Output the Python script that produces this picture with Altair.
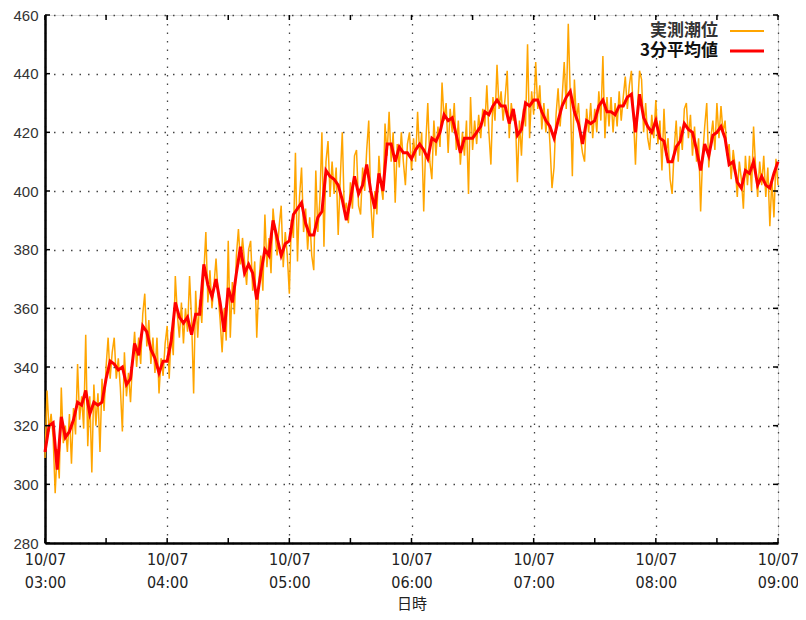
import altair as alt
import pandas as pd

# ---- data (cm) ----
# 3-minute average, sampled every 2 minutes, one list per hour
red_03h = [311, 320, 321, 305, 323, 316, 318, 322, 328, 327, 332, 324, 328, 327, 328,
           336, 342, 341, 339, 340, 334, 336, 348, 344, 354, 352, 346, 343, 338, 342]
red_04h = [342, 349, 362, 357, 355, 357, 351, 358, 358, 375, 368, 364, 370, 362, 352,
           367, 362, 372, 381, 372, 375, 372, 363, 372, 380, 378, 390, 384, 378, 382]
red_05h = [383, 392, 394, 396, 389, 385, 385, 391, 393, 407, 405, 404, 402, 397, 390,
           397, 405, 399, 402, 409, 400, 394, 406, 400, 416, 416, 410, 415, 413, 413]
red_06h = [411, 414, 416, 414, 411, 418, 417, 420, 426, 424, 425, 419, 413, 418, 418,
           418, 420, 422, 427, 426, 429, 431, 429, 429, 423, 428, 419, 421, 430, 429]
red_07h = [431, 431, 427, 424, 422, 418, 424, 429, 432, 434, 427, 423, 416, 424, 423,
           424, 429, 431, 427, 427, 426, 429, 429, 432, 433, 420, 433, 425, 422, 420]
red_08h = [424, 418, 417, 410, 410, 415, 417, 423, 421, 420, 414, 407, 416, 412, 419,
           420, 422, 418, 409, 410, 403, 401, 407, 406, 410, 402, 405, 402, 401, 406, 410]

# observed tide level, sampled every minute, one list per hour
raw_03h = [309, 332, 318, 324, 316, 297, 312, 302, 333, 314, 320, 311, 324, 307, 326,
           317, 341, 322, 330, 319, 351, 313, 330, 304, 334, 320, 331, 311, 336, 325,
           340, 350, 336, 345, 350, 336, 343, 333, 318, 345, 330, 338, 328, 342, 352,
           340, 350, 341, 358, 365, 347, 356, 341, 350, 338, 350, 331, 343, 337, 348]
raw_04h = [354, 336, 352, 344, 371, 358, 350, 362, 348, 360, 352, 371, 356, 331, 366,
           350, 363, 355, 372, 386, 362, 373, 360, 368, 377, 365, 356, 345, 360, 349,
           383, 350, 369, 358, 378, 387, 375, 384, 376, 368, 380, 383, 366, 376, 350,
           368, 378, 366, 392, 374, 384, 372, 394, 386, 378, 388, 395, 374, 386, 378]
raw_05h = [365, 390, 384, 413, 376, 398, 408, 386, 394, 380, 391, 378, 373, 407, 386,
           397, 420, 381, 410, 417, 398, 410, 399, 408, 385, 404, 420, 393, 396, 389,
           403, 394, 412, 414, 395, 392, 408, 400, 414, 424, 396, 384, 400, 392, 412,
           402, 397, 423, 412, 427, 410, 420, 396, 416, 408, 420, 410, 402, 416, 420]
raw_06h = [407, 418, 410, 427, 412, 420, 393, 416, 430, 410, 404, 424, 412, 422, 415,
           437, 424, 430, 413, 428, 420, 430, 414, 424, 409, 420, 412, 424, 399, 432,
           414, 424, 416, 426, 418, 428, 422, 436, 420, 409, 432, 424, 443, 428, 434,
           424, 432, 441, 418, 430, 424, 426, 403, 424, 412, 428, 422, 450, 418, 434]
raw_07h = [426, 444, 428, 436, 421, 430, 420, 428, 416, 401, 408, 426, 435, 422, 432,
           444, 428, 457, 432, 405, 438, 424, 430, 418, 413, 410, 428, 420, 430, 418,
           428, 420, 434, 424, 446, 418, 432, 422, 432, 420, 430, 422, 434, 424, 432,
           439, 428, 436, 441, 426, 409, 428, 441, 438, 420, 430, 418, 414, 426, 418]
raw_08h = [431, 416, 424, 407, 428, 412, 418, 404, 399, 414, 424, 410, 422, 414, 428,
           430, 418, 426, 412, 422, 410, 418, 393, 412, 422, 430, 408, 418, 424, 414,
           430, 418, 429, 420, 424, 412, 416, 404, 414, 408, 398, 410, 404, 394, 412,
           402, 412, 400, 422, 408, 398, 410, 402, 412, 398, 408, 388, 404, 391, 411, 402]

series_names = ["実測潮位", "3分平均値"]
series_colors = ["#FFA500", "#FF0000"]
start = "2023-10-07 03:00"
hour_ticks = [3, 4, 5, 6, 7, 8, 9]
minor_ticks_min = [0, 30, 60, 90, 120, 150, 180, 210, 240, 270, 300, 330, 360]
y_ticks = [280, 300, 320, 340, 360, 380, 400, 420, 440, 460]
y_domain = [280, 460]

# ---- tables ----
red_vals = red_03h + red_04h + red_05h + red_06h + red_07h + red_08h
raw_vals = raw_03h + raw_04h + raw_05h + raw_06h + raw_07h + raw_08h
t0 = pd.Timestamp(start)
red_df = pd.DataFrame({"time": [t0 + pd.Timedelta(minutes=2 * i) for i in range(len(red_vals))],
                       "level": red_vals})
raw_df = pd.DataFrame({"time": [t0 + pd.Timedelta(minutes=i) for i in range(len(raw_vals))],
                       "level": raw_vals})
xt_df = pd.DataFrame({"time": [t0 + pd.Timedelta(minutes=m) for m in minor_ticks_min]})
yt_df = pd.DataFrame({"level": y_ticks})
one_df = pd.DataFrame({"k": [0]})

W, H = 733, 528
TICK = 5

xscale = alt.Scale(domain=[alt.DateTime(year=2023, month=10, date=7, hours=hour_ticks[0]),
                           alt.DateTime(year=2023, month=10, date=7, hours=hour_ticks[-1])])
xaxis = alt.Axis(
    values=[alt.DateTime(year=2023, month=10, date=7, hours=h) for h in hour_ticks],
    labelExpr="[timeFormat(datum.value, '%m/%d'), timeFormat(datum.value, '%H:%M')]",
    labelFont="DejaVu Sans Condensed", labelFontSize=16, labelColor="#222",
    labelPadding=8, labelLineHeight=23, labelFlush=False, labelOverlap=False,
    labelBound=False, ticks=False,
    domainColor="black", domainWidth=2.5,
    grid=True, gridDash=[1.5, 7], gridColor="#444", gridWidth=1.3,
    title="日時", titleFont="Noto Sans CJK JP", titleFontSize=15,
    titleFontWeight="normal", titleColor="#222", titlePadding=6,
)
yscale = alt.Scale(domain=y_domain, nice=False, zero=False)
yaxis = alt.Axis(
    values=y_ticks, labelFont="Liberation Sans", labelFontSize=15, labelColor="#333",
    labelPadding=7, ticks=False, domainColor="black", domainWidth=2.5,
    grid=True, gridDash=[1.5, 7], gridColor="#444", gridWidth=1.3, title=None,
)

X = alt.X("time:T", scale=xscale, axis=xaxis)
Y = alt.Y("level:Q", scale=yscale, axis=yaxis)

raw_line = alt.Chart(raw_df).mark_line(color=series_colors[0], strokeWidth=1.5).encode(x=X, y=Y)
red_line = alt.Chart(red_df).mark_line(color=series_colors[1], strokeWidth=3).encode(x=X, y=Y)

# inward ticks on the frame
tick_b = alt.Chart(xt_df).mark_rule(color="black", strokeWidth=1.5).encode(
    x=X, y=alt.value(H), y2=alt.value(H - TICK))
tick_t = alt.Chart(xt_df).mark_rule(color="black", strokeWidth=1.5).encode(
    x=X, y=alt.value(0), y2=alt.value(TICK))
tick_l = alt.Chart(yt_df).mark_rule(color="black", strokeWidth=1.5).encode(
    y=Y, x=alt.value(0), x2=alt.value(TICK))
tick_r = alt.Chart(yt_df).mark_rule(color="black", strokeWidth=1.5).encode(
    y=Y, x=alt.value(W), x2=alt.value(W - TICK))

# legend (text left of the line sample)
leg = []
for i, (name, col) in enumerate(zip(series_names, series_colors)):
    ypix = 16 + 20 * i
    leg.append(alt.Chart(one_df).mark_text(
        align="right", baseline="middle", font="Noto Sans CJK JP", fontSize=17,
        fontWeight="bold", color="#333" if i == 0 else "#111").encode(
        x=alt.value(673), y=alt.value(ypix), text=alt.value(name)))
    leg.append(alt.Chart(one_df).mark_rule(color=col, strokeWidth=2 if i == 0 else 3).encode(
        x=alt.value(685), x2=alt.value(719), y=alt.value(ypix)))

chart = alt.layer(raw_line, red_line, tick_b, tick_t, tick_l, tick_r, *leg).properties(
    width=W, height=H,
    autosize=alt.AutoSizeParams(type="none"),
    padding={"left": 37, "top": 7, "right": 20, "bottom": 75},
).configure_view(stroke="black", strokeWidth=1.5).configure(background="white")

chart.save("out.html", embed_options={"renderer": "svg", "actions": False})
